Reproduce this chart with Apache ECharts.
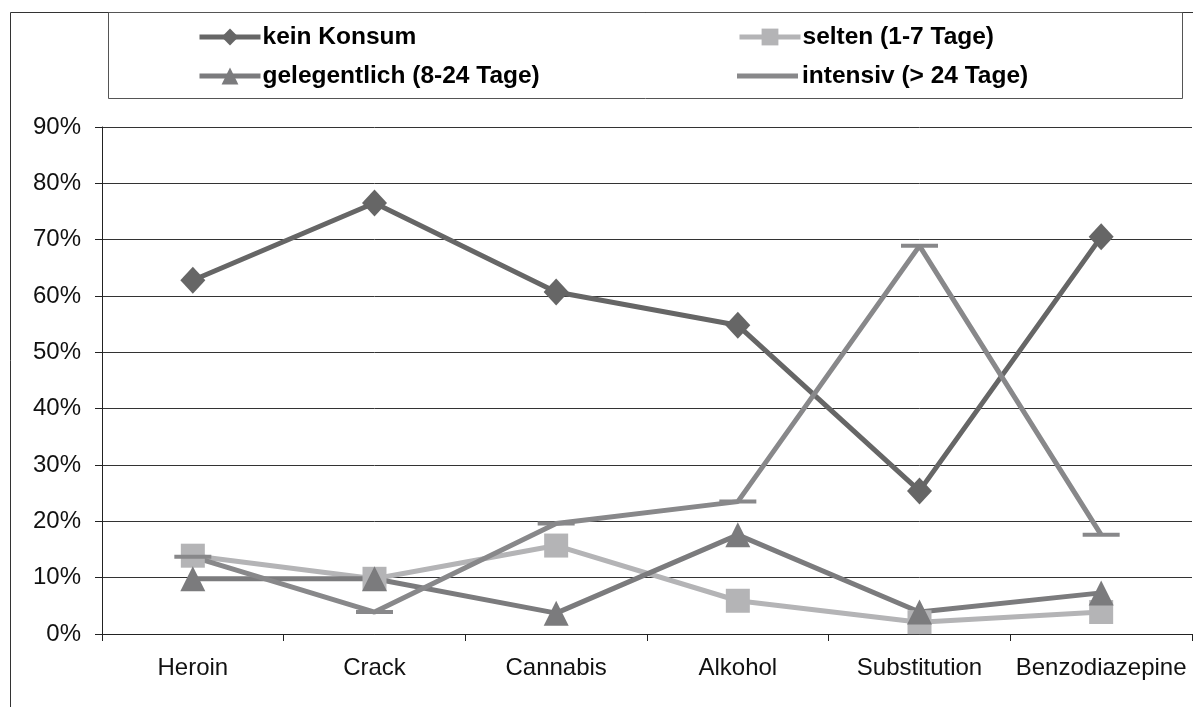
<!DOCTYPE html>
<html><head><meta charset="utf-8">
<script src="https://cdn.jsdelivr.net/npm/echarts@6/dist/echarts.min.js"></script>
<style>html,body{margin:0;padding:0;background:#fff}#c{width:1193px;height:707px}</style>
</head><body><div id="c"></div>
<script>
const categories = ['Heroin','Crack','Cannabis','Alkohol','Substitution','Benzodiazepine'];
const seriesNames = ['kein Konsum','selten (1-7 Tage)','gelegentlich (8-24 Tage)','intensiv (> 24 Tage)'];
const keinKonsum = [62.8, 76.5, 60.7, 54.8, 25.4, 70.5];
const selten = [13.9, 9.8, 15.7, 5.9, 2.1, 3.9];
const gelegentlich = [9.8, 9.8, 3.7, 17.6, 3.9, 7.3];
const intensiv = [13.7, 3.9, 19.6, 23.5, 68.9, 17.6];
const yTicks = [0,10,20,30,40,50,60,70,80,90];

const font = '"Liberation Sans", Arial, sans-serif';
const colors = ['#666666','#b4b4b6','#7b7b7d','#88888a'];
const chart = echarts.init(document.getElementById('c'), null, {renderer:'canvas'});

function mkLegend(item, left, top, itemHeight, padLeft){
  return {
    data:[item], left:left, top:top, itemWidth:61, itemHeight:itemHeight, itemGap:0,
    padding:0, selectedMode:false,
    lineStyle:{width:5},
    textStyle:{fontFamily:font, fontSize:24.5, fontWeight:'bold', color:'#000', lineHeight:26, padding:[0,0,0,padLeft]}
  };
}
function mkSeries(i, data, symbol, size){
  return {
    name: seriesNames[i], type:'line', data:data, symbol:symbol, symbolSize:size,
    showAllSymbol:true,
    lineStyle:{color:colors[i], width:5},
    itemStyle:{color:colors[i]},
    emphasis:{disabled:true}, animation:false
  };
}

chart.setOption({
  animation:false,
  backgroundColor:'#fff',
  grid:{left:102, right:1, top:127, bottom:73, containLabel:false},
  legend:[
    mkLegend(seriesNames[0], 197, 24, 21, -3),
    mkLegend(seriesNames[1], 737, 24, 21, -3),
    mkLegend(seriesNames[2], 197, 63, 21, -3),
    mkLegend({name:seriesNames[3], icon:'rect'}, 737, 63, 5, -1)
  ],
  xAxis:{
    type:'category', data:categories, boundaryGap:true,
    axisLine:{lineStyle:{color:'#222', width:1}},
    axisTick:{show:true, length:7, interval:0, lineStyle:{color:'#222'}},
    axisLabel:{fontFamily:font, fontSize:24, color:'#111', margin:22, interval:0}
  },
  yAxis:{
    type:'value', min:0, max:90, interval:10,
    axisLine:{show:true, lineStyle:{color:'#222', width:1}},
    axisTick:{show:true, length:7, lineStyle:{color:'#222'}},
    axisLabel:{fontFamily:font, fontSize:24, color:'#111', margin:21,
      formatter:function(v){ return yTicks.indexOf(v)>=0 ? v+'%' : ''; }},
    splitLine:{show:true, lineStyle:{color:'#333', width:1}}
  },
  graphic:[
    {type:'rect', shape:{x:10.5, y:12.5, width:1300, height:800}, style:{fill:null, stroke:'#333', lineWidth:1}, silent:true, z:-1},
    {type:'rect', shape:{x:108.5, y:12.5, width:1074, height:86}, style:{fill:null, stroke:'#555', lineWidth:1}, silent:true, z:-1}
  ],
  series:[
    mkSeries(0, keinKonsum, 'diamond', [25,27]),
    mkSeries(1, selten, 'rect', [24,24]),
    mkSeries(2, gelegentlich, 'triangle', [25,25]),
    mkSeries(3, intensiv, 'rect', [37,4])
  ]
});
</script></body></html>
